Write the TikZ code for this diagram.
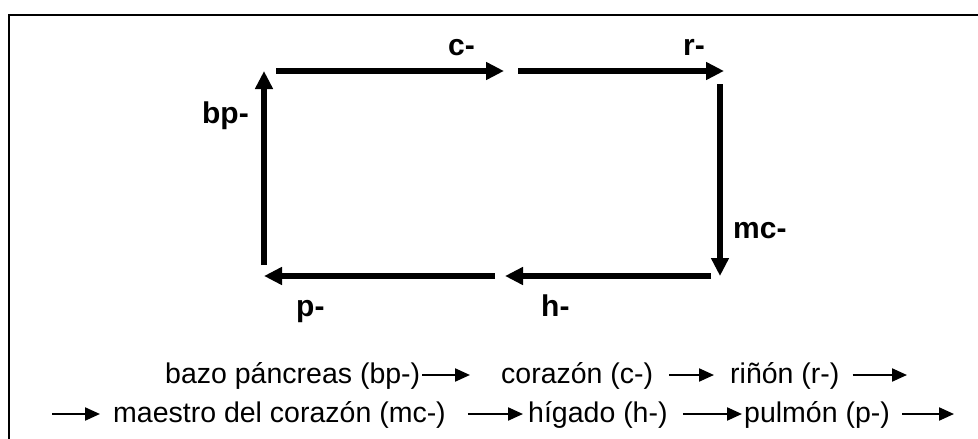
\documentclass[tikz,border=0pt]{standalone}
\usepackage{fontspec}
\setmainfont{Liberation Sans}
\usetikzlibrary{arrows.meta}
\tikzset{
  big/.style={line width=5.5pt,-{Triangle[length=18pt,width=17pt]}},
  small/.style={line width=2.2pt,-{Triangle[length=15pt,width=13pt]}},
  lbl/.style={inner sep=0pt,anchor=base west,font=\fontsize{30}{36}\selectfont\bfseries},
  txt/.style={inner sep=0pt,anchor=base west,font=\fontsize{28.5}{34}\selectfont},
}
\begin{document}
\begin{tikzpicture}[x=1pt,y=-1pt]
\useasboundingbox (0,0) rectangle (978,439);
\begin{scope}
\clip (0,0) rectangle (978,439);
\draw[line width=2pt] (9,15) rectangle (1000,460);
\end{scope}
% cycle arrows
\coordinate (a1s) at (276,71);
\coordinate (a1e) at (504,71);
\coordinate (a2s) at (518,71);
\coordinate (a2e) at (724,71);
\coordinate (a3s) at (720,84);
\coordinate (a3e) at (720,276);
\coordinate (a4s) at (711,276);
\coordinate (a4e) at (505,276);
\coordinate (a5s) at (495,276);
\coordinate (a5e) at (264,276);
\coordinate (a6s) at (264,265);
\coordinate (a6e) at (264,71);
\draw[big] (a1s) -- (a1e);
\draw[big] (a2s) -- (a2e);
\draw[big] (a3s) -- (a3e);
\draw[big] (a4s) -- (a4e);
\draw[big] (a5s) -- (a5e);
\draw[big] (a6s) -- (a6e);
% labels
\node[lbl] (lc) at (448,55) {c-};
\node[lbl] (lr) at (683,55) {r-};
\node[lbl,anchor=base east] (lbp) at (249,123) {bp-};
\node[lbl] (lmc) at (733,238) {mc-};
\node[lbl] (lp) at (296,316) {p-};
\node[lbl] (lh) at (541,316) {h-};
% text line 1
\node[txt] (t1) at (165,383) {bazo páncreas (bp-)};
\node[txt] (t2) at (501,383) {corazón (c-)};
\node[txt] (t3) at (730,383) {riñón (r-)};
\coordinate (e1) at (907,375);
% text line 2
\coordinate (s2) at (52,414);
\node[txt] (t4) at (113,422) {maestro del corazón (mc-)};
\node[txt] (t5) at (528,422) {hígado (h-)};
\node[txt] (t6) at (744,422) {pulmón (p-)};
\coordinate (e2) at (954,414);
% small arrows
\draw[small] ([xshift=2pt,yshift=8pt]t1.base east) -- ([xshift=-31pt,yshift=8pt]t2.base west);
\draw[small] ([xshift=16pt,yshift=8pt]t2.base east) -- ([xshift=-16pt,yshift=8pt]t3.base west);
\draw[small] ([xshift=13pt,yshift=8pt]t3.base east) -- (e1);
\draw[small] (s2) -- ([xshift=-13pt,yshift=8pt]t4.base west);
\draw[small] ([xshift=22pt,yshift=8pt]t4.base east) -- ([xshift=-5pt,yshift=8pt]t5.base west);
\draw[small] ([xshift=15pt,yshift=8pt]t5.base east) -- ([xshift=-2pt,yshift=8pt]t6.base west);
\draw[small] ([xshift=12pt,yshift=8pt]t6.base east) -- (e2);
\end{tikzpicture}
\end{document}
